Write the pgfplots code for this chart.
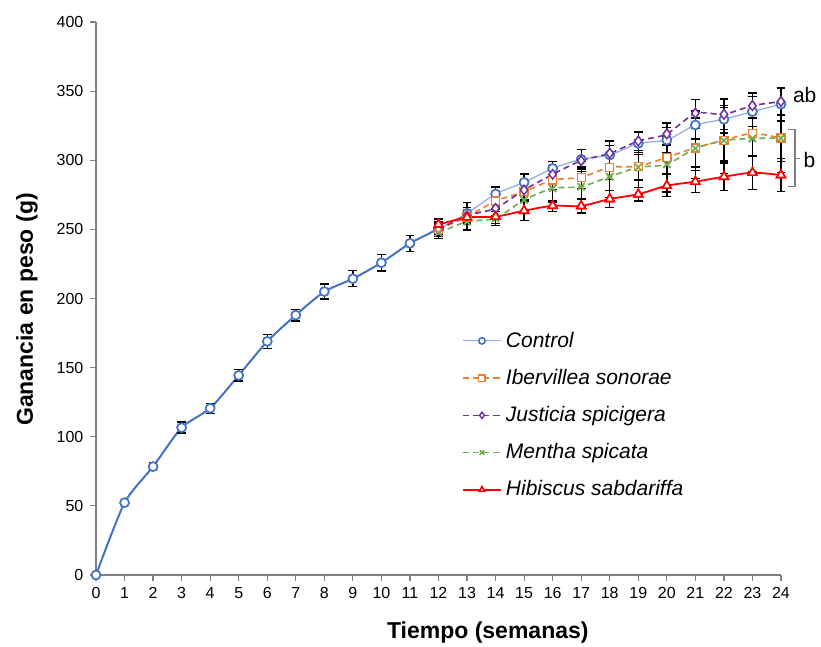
\documentclass[border=0pt]{standalone}
\usepackage{pgfplots}
\pgfplotsset{compat=1.18}
\usepackage{pgfplotstable}
\usepackage{fontspec}
\setmainfont{Liberation Sans}
\definecolor{cblue}{HTML}{4472C4}
\definecolor{clblue}{HTML}{8EA9DB}
\definecolor{corange}{HTML}{ED7D31}
\definecolor{cpurple}{HTML}{7030A0}
\definecolor{cgreen}{HTML}{70AD47}
\definecolor{cred}{HTML}{FF0000}
\definecolor{caxis}{HTML}{808080}

\pgfplotstableread{
x y e
0 0 0
1 52.3 1.5
2 78.4 2.5
3 106.6 4
4 120.6 3.6
5 144.4 4.2
6 169 5
7 188 4.2
8 205 5.4
9 214.3 5.8
10 225.9 6
11 239.9 5.8
12 250.3 5
}\controlA
\pgfplotstableread{
x y e
12 250.3 5
13 261.6 8
14 275.6 5
15 284 6
16 294.1 5
17 300.7 7
18 303.8 7
19 312.2 8
20 314.6 9
21 325.5 10
22 329.6 10
23 335.2 11
24 340.5 12
}\controlB
\pgfplotstableread{
x y e
12 250 4
13 259 5
14 270.5 6
15 277.3 6
16 285.7 7
17 287.6 8
18 294.9 9
19 295.6 10
20 302.1 12
21 309 14
22 314.5 15
23 319.5 16
24 316 17
}\iber
\pgfplotstableread{
x y e
12 250 4
13 260 6
14 265.2 5
15 278.5 7
16 289.8 6
17 299.7 8
18 305 9
19 313.9 7
20 319 8
21 334 10
22 333.2 11
23 339.5 9
24 342.4 10
}\justi
\pgfplotstableread{
x y e
12 247.5 4
13 255.6 6
14 258 5
15 271.3 8
16 279.7 10
17 280.9 14
18 288.1 15
19 294.9 20
20 297 20
21 308.6 22
22 314.2 24
23 315.8 24
24 316 25
}\mentha
\pgfplotstableread{
x y e
12 253.5 4
13 258.7 4
14 259.2 5
15 263.5 7
16 267.1 4
17 266.9 5
18 272 6
19 275.4 5
20 281.6 8
21 284.5 8
22 288.1 10
23 291 12
24 289.3 12
}\hibis

\begin{document}
\begin{tikzpicture}
\begin{axis}[
  scale only axis,
  width=342.5pt, height=276.5pt,
  xmin=0, xmax=24, ymin=0, ymax=400,
  xtick={0,1,...,24},
  ytick={0,50,...,400},
  axis lines*=left,
  axis line style={caxis, line width=0.6pt},
  tick align=outside,
  major tick length=2.8pt,
  tick style={caxis, line width=0.6pt},
  /pgf/number format/assume math mode=true,
  ticklabel style={font=\fontsize{8}{9}\selectfont},
  xlabel={\textbf{Tiempo (semanas)}},
  ylabel={\textbf{Ganancia en peso (g)}},
  label style={font=\fontsize{11.5}{13}\selectfont},
  xlabel style={at={(axis description cs:0.572,-0.1049)}, anchor=center},
  ylabel style={at={(axis description cs:-0.1007,0.48)}, anchor=center},
  clip=false,
  legend cell align=left,
  legend style={at={(axis cs:12.6,182)}, anchor=north west, draw=none, fill=none,
    font=\fontsize{10.5}{12}\selectfont\itshape, row sep=5.5pt},
  legend image code/.code={\draw[mark repeat=2,mark phase=2,mark size=1.6pt] plot coordinates {(0cm,0cm) (0.335cm,0cm) (0.67cm,0cm)};},
  error bars/error bar style={black, solid, line width=0.7pt},
  error bars/error mark options={rotate=90, mark size=2.2pt, black, solid, line width=0.7pt},
  mkA/.style={mark=*, mark size=2.2pt, mark options={solid, fill=white, draw=cblue, line width=0.8pt}},
  mkB/.style={mark=square*, mark size=2pt, mark options={solid, fill=white, draw=corange, line width=0.7pt}},
  mkC/.style={mark=diamond*, mark size=2.4pt, mark options={solid, fill=white, draw=cpurple, line width=0.7pt}},
  mkD/.style={mark=x, mark size=2.5pt, mark options={solid, draw=cgreen, line width=0.8pt}},
  mkE/.style={mark=triangle*, mark size=2.5pt, mark options={solid, fill=white, draw=cred, line width=0.8pt}},
]
\addplot[cblue, line width=1pt, smooth, tension=0.4, mkA, forget plot,
  error bars/.cd, y dir=both, y explicit]
  table[x=x, y=y, y error=e] {\controlA};
\addplot[clblue, line width=0.6pt, smooth, tension=0.4, mkA,
  error bars/.cd, y dir=both, y explicit]
  table[x=x, y=y, y error=e] {\controlB};
\addlegendentry{Control}
\addplot[corange, line width=0.8pt, dash pattern=on 3pt off 2pt, smooth, tension=0.4, mkB,
  error bars/.cd, y dir=both, y explicit]
  table[x=x, y=y, y error=e] {\iber};
\addlegendentry{Ibervillea sonorae}
\addplot[cpurple, line width=0.8pt, dash pattern=on 3pt off 2pt, smooth, tension=0.4, mkC,
  error bars/.cd, y dir=both, y explicit]
  table[x=x, y=y, y error=e] {\justi};
\addlegendentry{Justicia spicigera}
\addplot[cgreen, line width=0.8pt, dash pattern=on 3pt off 2pt, smooth, tension=0.4, mkD,
  error bars/.cd, y dir=both, y explicit]
  table[x=x, y=y, y error=e] {\mentha};
\addlegendentry{Mentha spicata}
\addplot[cred, line width=0.9pt, smooth, tension=0.4, mkE,
  error bars/.cd, y dir=both, y explicit]
  table[x=x, y=y, y error=e] {\hibis};
\addlegendentry{Hibiscus sabdariffa}
% markers redrawn above the error bars
\addplot[only marks, mkA, forget plot] table[x=x, y=y] {\controlA};
\addplot[only marks, mkA, forget plot] table[x=x, y=y] {\controlB};
\addplot[only marks, mkB, forget plot] table[x=x, y=y] {\iber};
\addplot[only marks, mkC, forget plot] table[x=x, y=y] {\justi};
\addplot[only marks, mkD, forget plot] table[x=x, y=y] {\mentha};
\addplot[only marks, mkE, forget plot] table[x=x, y=y] {\hibis};
\draw[caxis, line width=0.6pt] (axis cs:24.25,322) -- (axis cs:24.49,322) -- (axis cs:24.49,281) -- (axis cs:24.25,281);
\draw[caxis, line width=0.6pt] (axis cs:24.49,301.5) -- (axis cs:24.67,301.5);
\node[font=\fontsize{10.5}{12}\selectfont, anchor=center] at (axis cs:25.0,300.5) {b};
\node[font=\fontsize{10.5}{12}\selectfont, anchor=center] at (axis cs:24.83,347.5) {ab};
\end{axis}
\pgfresetboundingbox
\path[use as bounding box] (-48pt,-36pt) rectangle (362.5pt,287.5pt);
\end{tikzpicture}
\end{document}
